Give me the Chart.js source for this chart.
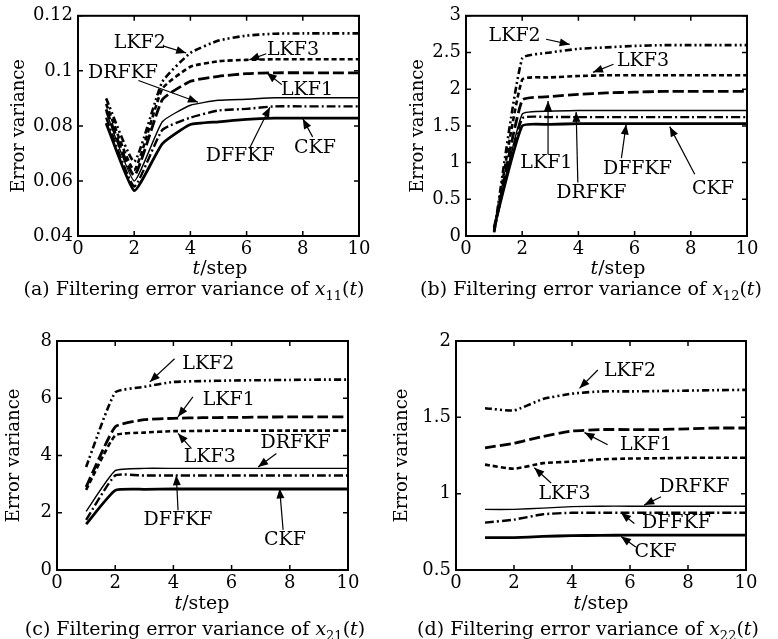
<!DOCTYPE html>
<html>
<head>
<meta charset="utf-8">
<script src="https://cdn.jsdelivr.net/npm/chart.js@4.4.0/dist/chart.umd.min.js"></script>
<style>
  body { margin: 0; background: #fff; }
  #fig { position: relative; width: 778px; height: 639px; font-family: "DejaVu Serif", serif; color: #000; overflow: hidden; }
  #fig canvas { position: absolute; }
  .lbl { position: absolute; font-size: 19px; white-space: nowrap; transform: translate(-50%, -50%); }
  .lbl sub { font-size: 13px; }
</style>
</head>
<body>
<div id="fig"></div>
<script>
// ==== shared x data ====
const tSteps = [1, 2, 3, 4, 5, 6, 7, 8, 9, 10];
const xTicks = [0, 2, 4, 6, 8, 10];

// ==== (a) x11(t) ====
const yTicksA = [0.04, 0.06, 0.08, 0.1, 0.12];
const a_LKF2  = [0.0900, 0.0670, 0.0960, 0.1065, 0.1110, 0.1128, 0.1135, 0.1136, 0.1136, 0.1136];
const a_LKF3  = [0.0880, 0.0640, 0.0935, 0.1015, 0.1035, 0.1040, 0.1042, 0.1042, 0.1042, 0.1042];
const a_LKF1  = [0.0860, 0.0620, 0.0895, 0.0962, 0.0980, 0.0990, 0.0993, 0.0993, 0.0993, 0.0993];
const a_DRFKF = [0.0850, 0.0600, 0.0815, 0.0875, 0.0893, 0.0897, 0.0902, 0.0902, 0.0902, 0.0902];
const a_DFFKF = [0.0830, 0.0580, 0.0785, 0.0830, 0.0856, 0.0862, 0.0871, 0.0871, 0.0871, 0.0871];
const a_CKF   = [0.0810, 0.0565, 0.0735, 0.0805, 0.0815, 0.0824, 0.0828, 0.0828, 0.0828, 0.0828];

// ==== (b) x12(t) ====
const yTicksB = [0, 0.5, 1, 1.5, 2, 2.5, 3];
const b_LKF2  = [0.05, 2.42, 2.50, 2.55, 2.57, 2.59, 2.60, 2.60, 2.60, 2.60];
const b_LKF3  = [0.06, 2.13, 2.16, 2.18, 2.19, 2.19, 2.19, 2.19, 2.19, 2.19];
const b_LKF1  = [0.07, 1.85, 1.90, 1.93, 1.95, 1.96, 1.97, 1.97, 1.97, 1.97];
const b_DRFKF = [0.08, 1.66, 1.70, 1.71, 1.71, 1.71, 1.71, 1.71, 1.71, 1.71];
const b_DFFKF = [0.10, 1.60, 1.62, 1.62, 1.62, 1.62, 1.62, 1.62, 1.62, 1.62];
const b_CKF   = [0.12, 1.50, 1.52, 1.53, 1.53, 1.53, 1.53, 1.53, 1.53, 1.53];

// ==== (c) x21(t) ====
const yTicksC = [0, 2, 4, 6, 8];
const c_LKF2  = [3.60, 6.20, 6.40, 6.57, 6.60, 6.62, 6.63, 6.64, 6.65, 6.65];
const c_LKF1  = [2.90, 5.00, 5.25, 5.30, 5.32, 5.33, 5.34, 5.35, 5.35, 5.35];
const c_LKF3  = [2.80, 4.70, 4.80, 4.85, 4.86, 4.87, 4.87, 4.87, 4.87, 4.87];
const c_DRFKF = [2.05, 3.47, 3.55, 3.55, 3.55, 3.55, 3.55, 3.55, 3.55, 3.55];
const c_DFFKF = [1.75, 3.30, 3.30, 3.30, 3.30, 3.30, 3.30, 3.30, 3.30, 3.30];
const c_CKF   = [1.60, 2.78, 2.82, 2.83, 2.83, 2.83, 2.83, 2.83, 2.83, 2.83];

// ==== (d) x22(t) ====
const yTicksD = [0.5, 1, 1.5, 2];
const d_LKF2  = [1.560, 1.545, 1.620, 1.655, 1.670, 1.670, 1.672, 1.675, 1.678, 1.680];
const d_LKF1  = [1.300, 1.330, 1.375, 1.410, 1.420, 1.420, 1.420, 1.425, 1.430, 1.430];
const d_LKF3  = [1.190, 1.163, 1.200, 1.210, 1.225, 1.230, 1.232, 1.235, 1.235, 1.235];
const d_DRFKF = [0.897, 0.897, 0.905, 0.915, 0.918, 0.918, 0.918, 0.918, 0.918, 0.918];
const d_DFFKF = [0.810, 0.830, 0.865, 0.875, 0.875, 0.875, 0.875, 0.875, 0.875, 0.875];
const d_CKF   = [0.712, 0.712, 0.720, 0.725, 0.727, 0.728, 0.728, 0.728, 0.728, 0.728];

// ==== line styles per filter ====
const lineStyle = {
  LKF2:  { dash: [7, 3, 2, 3, 2, 3], width: 2.6 },
  LKF3:  { dash: [5, 3], width: 2.6 },
  LKF1:  { dash: [11, 4], width: 2.8 },
  DRFKF: { dash: [], width: 1.4 },
  DFFKF: { dash: [9, 3, 2, 3], width: 2.4 },
  CKF:   { dash: [], width: 2.8 }
};

const FONT = "DejaVu Serif";
const fig = document.getElementById("fig");

// ==== panel layout + labels (annotation coords are in data units) ====
const panels = [
  {
    box: { left: 0, top: 0, width: 389, height: 258 },
    plot: { L: 78, T: 12, R: 359, B: 236 },
    yMin: 0.04, yMax: 0.12, yTicks: yTicksA, titlePad: 9,
    series: { LKF2: a_LKF2, LKF3: a_LKF3, LKF1: a_LKF1, DRFKF: a_DRFKF, DFFKF: a_DFFKF, CKF: a_CKF },
    notes: [
      { text: "LKF2",  t: [2.2, 0.1100],  from: [3.05, 0.1090], to: [3.85, 0.1065] },
      { text: "LKF3",  t: [7.65, 0.1075], from: [6.7, 0.1062],  to: [6.1, 0.1040] },
      { text: "DRFKF", t: [1.6, 0.0993],  from: [2.15, 0.0965], to: [4.27, 0.0886] },
      { text: "LKF1",  t: [8.15, 0.0932], from: [7.25, 0.0950], to: [6.72, 0.0993] },
      { text: "DFFKF", t: [5.77, 0.0689], from: [6.1, 0.0718],  to: [6.83, 0.0868] },
      { text: "CKF",   t: [8.43, 0.0718], from: [8.35, 0.0760], to: [8.0, 0.0826] }
    ],
    xTitle: [220, 267], caption: [194, 290], capVar: "11", capTag: "(a)"
  },
  {
    box: { left: 388, top: 0, width: 390, height: 258 },
    plot: { L: 466, T: 13, R: 747, B: 236 },
    yMin: 0, yMax: 3, yTicks: yTicksB, titlePad: 20,
    series: { LKF2: b_LKF2, LKF3: b_LKF3, LKF1: b_LKF1, DRFKF: b_DRFKF, DFFKF: b_DFFKF, CKF: b_CKF },
    notes: [
      { text: "LKF2",  t: [1.73, 2.72], from: [2.85, 2.68], to: [3.69, 2.61] },
      { text: "LKF3",  t: [6.3, 2.39],  from: [5.25, 2.34], to: [4.52, 2.23] },
      { text: "LKF1",  t: [2.86, 1.0],  from: [2.92, 1.11], to: [2.92, 1.84] },
      { text: "DRFKF", t: [4.46, 0.59], from: [3.98, 0.73], to: [3.92, 1.69] },
      { text: "DFFKF", t: [6.1, 0.91],  from: [5.53, 1.06], to: [5.7, 1.52] },
      { text: "CKF",   t: [8.79, 0.64], from: [8.14, 0.84], to: [7.25, 1.49] }
    ],
    xTitle: [618, 267], caption: [591, 290], capVar: "12", capTag: "(b)"
  },
  {
    box: { left: 0, top: 322, width: 389, height: 270 },
    plot: { L: 57, T: 341, R: 348, B: 570 },
    yMin: 0, yMax: 8, yTicks: yTicksC, titlePad: 4,
    series: { LKF2: c_LKF2, LKF1: c_LKF1, LKF3: c_LKF3, DRFKF: c_DRFKF, DFFKF: c_DFFKF, CKF: c_CKF },
    notes: [
      { text: "LKF2",  t: [5.2, 7.21],  from: [4.04, 7.38], to: [3.19, 6.57] },
      { text: "LKF1",  t: [5.9, 5.93],  from: [4.67, 6.05], to: [4.16, 5.35] },
      { text: "LKF3",  t: [5.25, 3.95], from: [4.62, 4.24], to: [4.16, 4.77] },
      { text: "DRFKF", t: [8.2, 4.42],  from: [7.54, 4.07], to: [6.91, 3.6] },
      { text: "DFFKF", t: [4.16, 1.74], from: [4.16, 2.09], to: [4.1, 3.31] },
      { text: "CKF",   t: [7.83, 1.05], from: [7.77, 1.40], to: [7.65, 2.85] }
    ],
    xTitle: [202, 602], caption: [195, 630], capVar: "21", capTag: "(c)"
  },
  {
    box: { left: 388, top: 322, width: 390, height: 270 },
    plot: { L: 456, T: 341, R: 746, B: 570 },
    yMin: 0.5, yMax: 2, yTicks: yTicksD, titlePad: 4,
    series: { LKF2: d_LKF2, LKF1: d_LKF1, LKF3: d_LKF3, DRFKF: d_DRFKF, DFFKF: d_DFFKF, CKF: d_CKF },
    notes: [
      { text: "LKF2",  t: [6.0, 1.80],   from: [4.89, 1.81],  to: [4.26, 1.69] },
      { text: "LKF1",  t: [6.55, 1.32],  from: [5.23, 1.32],  to: [4.43, 1.40] },
      { text: "LKF3",  t: [3.74, 1.0],   from: [3.28, 1.07],  to: [2.7, 1.17] },
      { text: "DRFKF", t: [8.22, 1.045], from: [7.07, 0.98],  to: [6.49, 0.925] },
      { text: "DFFKF", t: [7.6, 0.805],  from: [6.15, 0.805], to: [5.69, 0.875] },
      { text: "CKF",   t: [6.88, 0.62],  from: [6.2, 0.65],   to: [5.69, 0.72] }
    ],
    xTitle: [601, 602], caption: [588, 630], capVar: "22", capTag: "(d)"
  }
];

// ==== plugin: framed box with inward ticks on all four sides ====
const frameTicks = {
  id: "frameTicks",
  afterDatasetsDraw(chart) {
    const { ctx, chartArea: a, scales } = chart;
    const len = 5;
    ctx.save();
    ctx.strokeStyle = "#000";
    ctx.lineWidth = 2;
    ctx.strokeRect(a.left, a.top, a.right - a.left, a.bottom - a.top);
    ctx.lineWidth = 1.5;
    ctx.beginPath();
    scales.x.ticks.forEach(tk => {
      const px = scales.x.getPixelForValue(tk.value);
      ctx.moveTo(px, a.bottom); ctx.lineTo(px, a.bottom - len);
      ctx.moveTo(px, a.top); ctx.lineTo(px, a.top + len);
    });
    scales.y.ticks.forEach(tk => {
      const py = scales.y.getPixelForValue(tk.value);
      ctx.moveTo(a.left, py); ctx.lineTo(a.left + len, py);
      ctx.moveTo(a.right, py); ctx.lineTo(a.right - len, py);
    });
    ctx.stroke();
    ctx.restore();
  }
};

// ==== plugin: text labels with arrows ====
function drawArrow(ctx, x1, y1, x2, y2) {
  ctx.beginPath();
  ctx.moveTo(x1, y1);
  ctx.lineTo(x2, y2);
  ctx.stroke();
  const ang = Math.atan2(y2 - y1, x2 - x1), hl = 10, hw = 4;
  const bx = x2 - hl * Math.cos(ang), by = y2 - hl * Math.sin(ang);
  ctx.beginPath();
  ctx.moveTo(x2, y2);
  ctx.lineTo(bx + hw * Math.sin(ang), by - hw * Math.cos(ang));
  ctx.lineTo(bx - hw * Math.sin(ang), by + hw * Math.cos(ang));
  ctx.closePath();
  ctx.fill();
}

const arrowNotes = {
  id: "arrowNotes",
  afterDatasetsDraw(chart, args, opts) {
    const { ctx, scales: { x, y } } = chart;
    ctx.save();
    ctx.fillStyle = "#000";
    ctx.strokeStyle = "#000";
    ctx.lineWidth = 1.2;
    ctx.font = "19px '" + FONT + "'";
    ctx.textAlign = "center";
    ctx.textBaseline = "middle";
    (opts.notes || []).forEach(n => {
      ctx.fillText(n.text, x.getPixelForValue(n.t[0]), y.getPixelForValue(n.t[1]));
      drawArrow(ctx,
        x.getPixelForValue(n.from[0]), y.getPixelForValue(n.from[1]),
        x.getPixelForValue(n.to[0]), y.getPixelForValue(n.to[1]));
    });
    ctx.restore();
  }
};

function fmtTick(v) {
  return String(Math.round(v * 1000) / 1000);
}

function makePanel(p) {
  const cv = document.createElement("canvas");
  cv.width = p.box.width;
  cv.height = p.box.height;
  cv.style.left = p.box.left + "px";
  cv.style.top = p.box.top + "px";
  cv.style.width = p.box.width + "px";
  cv.style.height = p.box.height + "px";
  fig.appendChild(cv);

  const datasets = Object.keys(p.series).map(name => ({
    label: name,
    data: tSteps.map((t, i) => ({ x: t, y: p.series[name][i] })),
    borderColor: "#000",
    borderWidth: lineStyle[name].width,
    borderDash: lineStyle[name].dash,
    pointRadius: 0,
    tension: 0.15,
    fill: false
  }));

  new Chart(cv.getContext("2d"), {
    type: "line",
    data: { datasets },
    options: {
      responsive: false,
      animation: false,
      events: [],
      layout: {
        padding: {
          left: 0,
          top: p.plot.T - p.box.top,
          right: p.box.left + p.box.width - p.plot.R,
          bottom: 0
        }
      },
      plugins: {
        legend: { display: false },
        tooltip: { enabled: false },
        arrowNotes: { notes: p.notes }
      },
      scales: {
        x: {
          type: "linear",
          min: 0, max: 10,
          afterBuildTicks: s => { s.ticks = xTicks.map(v => ({ value: v })); },
          afterFit: s => { s.height = p.box.top + p.box.height - p.plot.B; },
          grid: { display: false, drawTicks: false },
          border: { display: false },
          ticks: {
            color: "#000", padding: 3, maxRotation: 0,
            font: { family: FONT, size: 18 },
            callback: v => fmtTick(v)
          }
        },
        y: {
          type: "linear",
          min: p.yMin, max: p.yMax,
          afterBuildTicks: s => { s.ticks = p.yTicks.map(v => ({ value: v })); },
          afterFit: s => { s.width = p.plot.L - p.box.left; },
          grid: { display: false, drawTicks: false },
          border: { display: false },
          ticks: {
            color: "#000", padding: 5,
            font: { family: FONT, size: 18 },
            callback: v => fmtTick(v)
          },
          title: {
            display: true, text: "Error variance", color: "#000",
            font: { family: FONT, size: 18 },
            padding: { top: p.titlePad, bottom: 0 }
          }
        }
      }
    },
    plugins: [frameTicks, arrowNotes]
  });

  const xt = document.createElement("div");
  xt.className = "lbl";
  xt.style.left = p.xTitle[0] + "px";
  xt.style.top = p.xTitle[1] + "px";
  xt.innerHTML = "<i>t</i>/step";
  fig.appendChild(xt);

  const cap = document.createElement("div");
  cap.className = "lbl";
  cap.style.left = p.caption[0] + "px";
  cap.style.top = p.caption[1] + "px";
  cap.innerHTML = p.capTag + " Filtering error variance of <i>x</i><sub>" + p.capVar + "</sub>(<i>t</i>)";
  fig.appendChild(cap);
}

panels.forEach(makePanel);
</script>
</body>
</html>
